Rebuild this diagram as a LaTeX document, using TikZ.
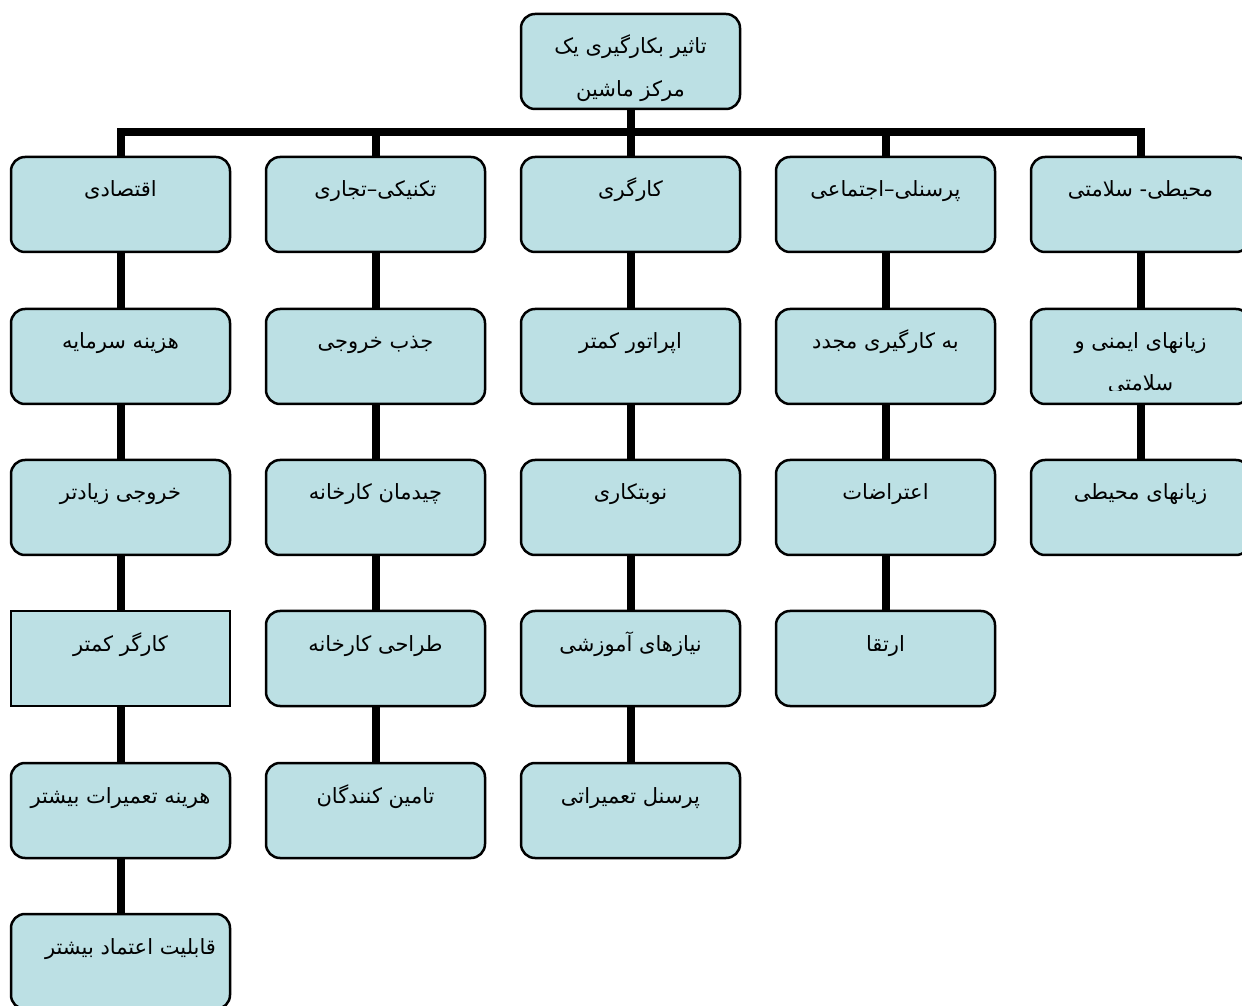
\documentclass[tikz,border=0pt]{standalone}
\usepackage{fontspec}
\usetikzlibrary{backgrounds}
\newfontfamily\fa[Script=Arabic]{DejaVu Sans}
\TeXXeTstate=1
\definecolor{boxc}{RGB}{188,224,228}
\newcommand\R[1]{\beginR #1\endR}
\newcommand\bx[1]{\parbox[c][89pt][t]{214pt}{\centering\fontsize{21}{43}\fa\rule{0pt}{37pt}#1\par}}
\tikzset{
  box/.style={draw=black, line width=2.5pt, fill=boxc, rounded corners=14pt, inner sep=0pt,
    minimum width=219pt, minimum height=95pt},
  sqbox/.style={box, rounded corners=0pt},
  conn/.style={line width=8pt, draw=black, line cap=butt},
  lab/.style={inner sep=0pt, font=\fontsize{21}{43}\fa}
}
\begin{document}
\begin{tikzpicture}[x=1pt,y=1pt]
\useasboundingbox (0,0) rectangle (1242,1005);
% top
\node[box] (T) at (630.5,943.5) {\bx{\R{تاثیر بکارگیری یک}\\\R{مرکز ماشین}}};
% row 1
\node[box] (A1) at (120.5,800.5) {\bx{\R{اقتصادی}}};
\node[box] (B1) at (375.5,800.5) {\bx{\R{تکنیکی–تجاری}}};
\node[box] (C1) at (630.5,800.5) {\bx{\R{کارگری}}};
\node[box] (D1) at (885.5,800.5) {\bx{\R{پرسنلی–اجتماعی}}};
\node[box] (E1) at (1140.5,800.5) {\bx{\R{محیطی- سلامتی}}};
% row 2
\node[box] (A2) at (120.5,648.5) {\bx{\R{هزینه سرمایه}}};
\node[box] (B2) at (375.5,648.5) {\bx{\R{جذب خروجی}}};
\node[box] (C2) at (630.5,648.5) {\bx{\R{اپراتور کمتر}}};
\node[box] (D2) at (885.5,648.5) {\bx{\R{به کارگیری مجدد}}};
\node[box] (E2) at (1140.5,648.5) {\bx{\R{زیانهای ایمنی و}}};
\begin{scope}
\clip (1031,614) rectangle (1250,700);
\node[lab] (E2b) at (1140.5,621) {\R{سلامتی}};
\end{scope}
% row 3
\node[box] (A3) at (120.5,497.5) {\bx{\R{خروجی زیادتر}}};
\node[box] (B3) at (375.5,497.5) {\bx{\R{چیدمان کارخانه}}};
\node[box] (C3) at (630.5,497.5) {\bx{\R{نوبتکاری}}};
\node[box] (D3) at (885.5,497.5) {\bx{\R{اعتراضات}}};
\node[box] (E3) at (1140.5,497.5) {\bx{\R{زیانهای محیطی}}};
% row 4
\node[sqbox] (A4) at (120.5,346.5) {\bx{\R{کارگر کمتر}}};
\node[box] (B4) at (375.5,346.5) {\bx{\R{طراحی کارخانه}}};
\node[box] (C4) at (630.5,346.5) {\bx{\R{نیازهای آموزشی}}};
\node[box] (D4) at (885.5,346.5) {\bx{\R{ارتقا}}};
% row 5
\node[box] (A5) at (120.5,194.5) {\bx{\R{هرینه تعمیرات بیشتر}}};
\node[box] (B5) at (375.5,194.5) {\bx{\R{تامین کنندگان}}};
\node[box] (C5) at (630.5,194.5) {\bx{\R{پرسنل تعمیراتی}}};
% row 6
\node[box] (A6) at (120.5,43.5) {\bx{\hspace*{20pt}\R{قابلیت اعتماد بیشتر}}};
\coordinate (bar) at (630.5,873);
\begin{scope}[on background layer]
\draw[conn, line join=miter] (A1.north) |- (bar) -| (E1.north);
\draw[conn] (T.south) -- (C1.north);
\draw[conn] (B1.north) -- (B1.north |- bar);
\draw[conn] (D1.north) -- (D1.north |- bar);
\foreach \c in {A,B,C,D,E}{\draw[conn] (\c1.south) -- (\c2.north);}
\foreach \c in {A,B,C,D,E}{\draw[conn] (\c2.south) -- (\c3.north);}
\foreach \c in {A,B,C,D}{\draw[conn] (\c3.south) -- (\c4.north);}
\foreach \c in {A,B,C}{\draw[conn] (\c4.south) -- (\c5.north);}
\draw[conn] (A5.south) -- (A6.north);
\end{scope}
\end{tikzpicture}
\end{document}
